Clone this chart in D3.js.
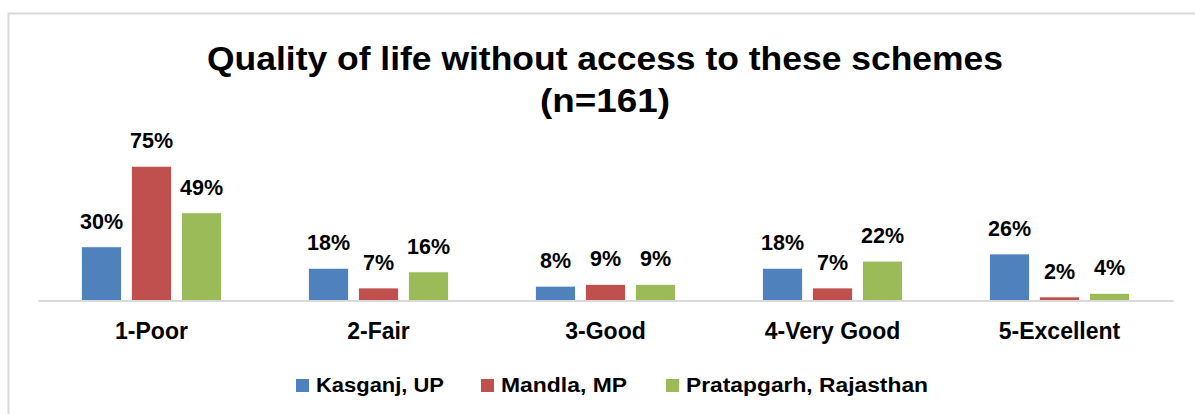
<!DOCTYPE html>
<html>
<head>
<meta charset="utf-8">
<script src="https://cdn.jsdelivr.net/npm/d3@7"></script>
<style>
  html, body { margin: 0; padding: 0; background: #fff; }
  svg { display: block; }
</style>
</head>
<body>
<svg id="chart" width="1195" height="414"></svg>
<script>
// Survey ratings by district (% of respondents)
const categories = ["1-Poor", "2-Fair", "3-Good", "4-Very Good", "5-Excellent"];
const seriesNames = ["Kasganj, UP", "Mandla, MP", "Pratapgarh, Rajasthan"];
const kasganj = [30, 18, 8, 18, 26];
const mandla = [75, 7, 9, 7, 2];
const pratapgarh = [49, 16, 9, 22, 4];
const seriesColors = ["#4f81bd", "#c0504d", "#9bbb59"];
const titleLines = ["Quality of life without access to these schemes", "(n=161)"];

const seriesValues = [kasganj, mandla, pratapgarh];

const svg = d3.select("#chart");
const W = 1195, H = 414;

// outer chart frame
svg.append("rect")
  .attr("x", 8.5).attr("y", 13.5)
  .attr("width", W + 20).attr("height", H + 20)
  .attr("fill", "#fff")
  .attr("stroke", "#d9d9d9").attr("stroke-width", 2);

// title (wide display face, fitted to its box width)
const titleWidths = [796, 130];
titleLines.forEach((t, i) => {
  svg.append("text")
    .attr("x", 605).attr("y", 70 + i * 42)
    .attr("text-anchor", "middle")
    .attr("font-family", "'Liberation Sans', Arial, sans-serif")
    .attr("font-weight", 700)
    .attr("font-size", 33)
    .attr("fill", "#000")
    .attr("textLength", titleWidths[i])
    .attr("lengthAdjust", "spacingAndGlyphs")
    .text(t);
});

const plot = { left: 38, right: 1173, base: 300.5 };

const x0 = d3.scaleBand()
  .domain(categories)
  .range([plot.left, plot.right])
  .paddingInner(0).paddingOuter(0);

const barW = 40, barStep = 50;

const y = d3.scaleLinear().domain([0, 80]).range([plot.base, plot.base - 143.2]);

const labelFont = "'Liberation Sans', Arial, sans-serif";

// bars and value labels
categories.forEach((cat, ci) => {
  const g = svg.append("g").attr("transform", `translate(${x0(cat) + x0.bandwidth() / 2},0)`);
  seriesNames.forEach((s, si) => {
    const v = seriesValues[si][ci];
    const cx = (si - 1) * barStep;
    g.append("rect")
      .attr("x", cx - barW / 2)
      .attr("y", y(v))
      .attr("width", barW)
      .attr("height", y(0) - y(v))
      .attr("fill", seriesColors[si])
      .attr("stroke", "#fff").attr("stroke-width", 0.8);
    g.append("text")
      .attr("x", cx)
      .attr("y", y(v) - 18)
      .attr("text-anchor", "middle")
      .attr("font-family", labelFont)
      .attr("font-weight", 700)
      .attr("font-size", 21.5)
      .attr("fill", "#000")
      .text(v + "%");
  });
});

// category axis
const xAxis = d3.axisBottom(x0).tickSize(0).tickPadding(0);
const axisG = svg.append("g")
  .attr("transform", `translate(0,${plot.base})`)
  .call(xAxis);
axisG.select(".domain").attr("stroke", "#d9d9d9").attr("stroke-width", 2);
axisG.selectAll(".tick text")
  .attr("y", 38)
  .attr("dy", 0)
  .attr("font-family", labelFont)
  .attr("font-weight", 700)
  .attr("font-size", 23)
  .attr("fill", "#000");

// legend
const legendX = [296, 481, 666];
const legendWidths = [128, 126, 242];
const legend = svg.append("g");
seriesNames.forEach((s, i) => {
  legend.append("rect")
    .attr("x", legendX[i]).attr("y", 379)
    .attr("width", 13).attr("height", 13)
    .attr("fill", seriesColors[i]);
  legend.append("text")
    .attr("x", legendX[i] + 20).attr("y", 392)
    .attr("font-family", labelFont)
    .attr("font-weight", 700)
    .attr("font-size", 20)
    .attr("fill", "#000")
    .attr("textLength", legendWidths[i])
    .attr("lengthAdjust", "spacingAndGlyphs")
    .text(s);
});
</script>
</body>
</html>
